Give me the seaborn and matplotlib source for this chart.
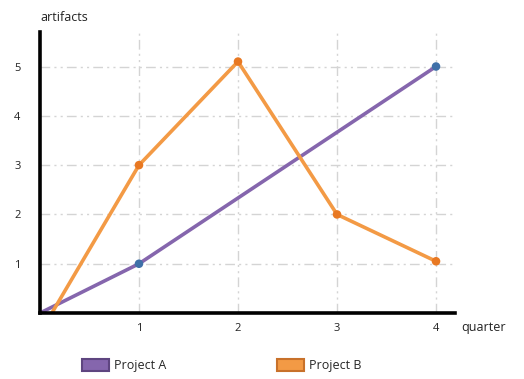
import matplotlib
matplotlib.use("Agg")
import matplotlib.pyplot as plt
from matplotlib.patches import Patch
import seaborn as sns
import pandas as pd

# Series data
quarters_a = [0, 1, 4]
artifacts_a = [0, 1, 5]
quarters_b = [0.12, 1, 2, 3, 4]
artifacts_b = [0, 3, 5.1, 2, 1.05]
x_ticks = [1, 2, 3, 4]
y_ticks = [1, 2, 3, 4, 5]
series_names = ["Project A", "Project B"]

line_colors = ["#8566ad", "#f39a45"]
marker_colors = ["#3f70a8", "#e87822"]

sns.set_style("white")
plt.rcParams["font.family"] = ["Open Sans", "DejaVu Sans"]

df = pd.concat([
    pd.DataFrame({"quarter": quarters_a, "artifacts": artifacts_a, "series": series_names[0]}),
    pd.DataFrame({"quarter": quarters_b, "artifacts": artifacts_b, "series": series_names[1]}),
])

fig = plt.figure(figsize=(5.24, 3.79), dpi=100)
ax = fig.add_axes([0.0763, 0.174, 0.868 - 0.0763, 0.9156 - 0.174])

# dash-dot-dot grid lines at the tick positions
for x in x_ticks:
    ax.axvline(x, color="#d4d4d4", lw=1.0, dashes=(7, 3, 1.5, 3, 1.5, 3), zorder=0)
for y in y_ticks:
    ax.axhline(y, color="#d4d4d4", lw=1.0, dashes=(7, 3, 1.5, 3, 1.5, 3), zorder=0)

sns.lineplot(data=df, x="quarter", y="artifacts", hue="series",
             palette=dict(zip(series_names, line_colors)), lw=2.6,
             legend=False, ax=ax, sort=False, zorder=2)

# point markers (not at the start of each line)
pts = df[df["quarter"] >= 1]
sns.scatterplot(data=pts, x="quarter", y="artifacts", hue="series",
                palette=dict(zip(series_names, marker_colors)), s=38,
                edgecolor="none", legend=False, ax=ax, zorder=3)

ax.set_xlim(0, 4.19)
ax.set_ylim(0, 5.70)
ax.set_xticks(x_ticks)
ax.set_yticks(y_ticks)
ax.tick_params(axis="x", length=0, labelsize=8, pad=7, colors="#222222")
ax.tick_params(axis="y", length=0, labelsize=8, pad=14, colors="#222222")
ax.set_xlabel("")
ax.set_ylabel("")
for s in ["top", "right"]:
    ax.spines[s].set_visible(False)
for s in ["left", "bottom"]:
    ax.spines[s].set_color("black")
    ax.spines[s].set_linewidth(2.6)

fig.text(0.078, 0.955, "artifacts", fontsize=9, color="#222222", ha="left", va="center")
fig.text(0.88, 0.135, "quarter", fontsize=9, color="#222222", ha="left", va="center")

handles = [Patch(facecolor=line_colors[0], edgecolor="#5e4580", lw=1.5),
           Patch(facecolor=line_colors[1], edgecolor="#c8712a", lw=1.5)]
fig.legend(handles, series_names, loc="center left", bbox_to_anchor=(0.135, 0.035),
           ncol=2, frameon=False, fontsize=9, handlelength=2.2, handleheight=1.0,
           handletextpad=0.4, columnspacing=8.8)

fig.savefig("out.png", dpi=100)
